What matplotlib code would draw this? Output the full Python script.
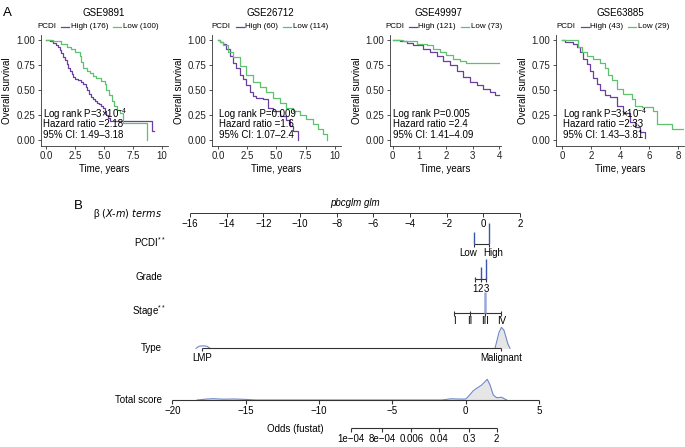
import numpy as np
import matplotlib
matplotlib.use("Agg")
import matplotlib.pyplot as plt
from matplotlib.lines import Line2D

plt.rcParams["font.family"] = ["Liberation Sans", "DejaVu Sans"]
plt.rcParams["mathtext.default"] = "regular"

# ---- panel A: Kaplan-Meier curves ----
titles = ["GSE9891", "GSE26712", "GSE49997", "GSE63885"]
n_high = [176, 60, 121, 43]
n_low = [100, 114, 73, 29]
p_text = ["3\u00d710$^{-4}$", "0.009", "0.005", "3\u00d710$^{-4}$"]
hr_text = ["2.18", "1.6", "2.4", "2.33"]
ci_text = ["1.49\u20133.18", "1.07\u20132.4", "1.41\u20134.09", "1.43\u20133.81"]

t_high = [
    [0, 0.3, 0.6, 0.87, 1.0, 1.16, 1.3, 1.45, 1.6, 1.74, 1.9, 2.03, 2.2, 2.3, 2.5, 2.75, 3.0, 3.2,
     3.4, 3.5, 3.7, 3.9, 4.05, 4.2, 4.4, 4.6, 4.75, 4.9, 5.05, 5.2, 5.35, 5.5, 9.15, 9.3],
    [0, 0.2, 0.43, 0.71, 1.0, 1.29, 1.57, 1.86, 2.14, 2.43, 2.71, 3.0, 3.3, 3.86, 4.29, 4.7, 5.3,
     5.86, 6.14, 6.43, 6.86],
    [0, 0.27, 0.52, 0.77, 1.15, 1.4, 1.65, 1.9, 2.15, 2.4, 2.65, 2.9, 3.15, 3.4, 3.65, 3.84, 4.0],
    [0, 0.23, 0.8, 1.03, 1.26, 1.49, 1.71, 1.94, 2.17, 2.4, 2.63, 2.97, 3.31, 3.77, 4.23, 4.69,
     5.03, 5.37, 5.7, 5.75],
]
s_high = [
    [1, 0.99, 0.975, 0.955, 0.93, 0.90, 0.87, 0.83, 0.80, 0.76, 0.72, 0.69, 0.66, 0.63, 0.61, 0.60,
     0.58, 0.56, 0.53, 0.50, 0.46, 0.43, 0.41, 0.39, 0.37, 0.36, 0.34, 0.32, 0.28, 0.25, 0.22, 0.19,
     0.09, 0.09],
    [1, 0.985, 0.965, 0.91, 0.84, 0.77, 0.72, 0.65, 0.61, 0.55, 0.48, 0.44, 0.42, 0.41, 0.32, 0.29,
     0.24, 0.20, 0.14, 0.09, 0.0],
    [1, 0.99, 0.97, 0.95, 0.91, 0.88, 0.84, 0.79, 0.75, 0.69, 0.63, 0.58, 0.55, 0.51, 0.48, 0.45,
     0.45],
    [1, 0.98, 0.965, 0.93, 0.88, 0.81, 0.76, 0.69, 0.62, 0.56, 0.50, 0.45, 0.43, 0.34, 0.27, 0.18,
     0.13, 0.08, 0.02, 0.02],
]
t_low = [
    [0, 0.6, 1.3, 1.74, 2.17, 2.46, 2.9, 3.0, 3.2, 3.5, 3.77, 4.0, 4.3, 4.7, 5.1, 5.2, 5.4, 5.65,
     5.9, 6.1, 6.4, 6.67, 8.7],
    [0, 0.2, 0.43, 0.86, 1.29, 1.86, 2.43, 3.0, 3.57, 4.14, 4.7, 5.29, 5.86, 6.43, 7.0, 7.57, 8.14,
     8.57, 9.0, 9.29],
    [0, 0.4, 0.9, 1.27, 1.52, 1.77, 2.02, 2.27, 2.52, 2.75, 4.0],
    [0, 1.14, 1.37, 1.71, 2.17, 2.63, 2.97, 3.2, 3.43, 3.77, 4.23, 4.8, 5.03, 5.49, 6.29, 6.51,
     7.6, 8.3],
]
s_low = [
    [1, 0.99, 0.965, 0.93, 0.91, 0.885, 0.84, 0.78, 0.72, 0.69, 0.67, 0.64, 0.62, 0.59, 0.56, 0.50,
     0.45, 0.39, 0.34, 0.30, 0.27, 0.17, 0.0],
    [1, 0.98, 0.95, 0.88, 0.83, 0.74, 0.65, 0.58, 0.53, 0.48, 0.42, 0.37, 0.32, 0.29, 0.25, 0.21,
     0.16, 0.11, 0.06, 0.0],
    [1, 0.99, 0.965, 0.95, 0.91, 0.885, 0.85, 0.815, 0.79, 0.775, 0.775],
    [1, 0.93, 0.88, 0.84, 0.81, 0.77, 0.72, 0.65, 0.60, 0.51, 0.46, 0.41, 0.34, 0.33, 0.29, 0.16,
     0.11, 0.11],
]
x_ticks = [[0, 2.5, 5, 7.5, 10], [0, 2.5, 5, 7.5, 10], [0, 1, 2, 3, 4], [0, 2, 4, 6, 8]]
x_ticklabels = [["0.0", "2.5", "5.0", "7.5", "10"], ["0.0", "2.5", "5.0", "7.5", "10"],
                ["0", "1", "2", "3", "4"], ["0", "2", "4", "6", "8"]]
x_lims = [(-0.5, 10.5), (-0.5, 10.5), (-0.1, 4.05), (-0.4, 8.4)]
y_ticks = [0, 0.25, 0.5, 0.75, 1.0]

# ---- panel B: nomogram ----
beta_ticks = [-16, -14, -12, -10, -8, -6, -4, -2, 0, 2]
pcdi_levels = ["Low", "High"]
pcdi_beta = [-0.51, 0.29]
pcdi_freq = [0.36, 0.64]
grade_levels = ["1", "2", "3"]
grade_beta = [-0.47, -0.15, 0.15]
grade_freq = [0.03, 0.37, 0.62]
stage_levels = ["I", "II", "III", "IV"]
stage_beta = [-1.6, -0.73, 0.12, 0.99]
stage_freq = [0.02, 0.02, 0.65, 0.0]
type_levels = ["LMP", "Malignant"]
type_beta = [-15.36, 0.99]
type_dens_x = [-15.67, -15.51, -15.29, -15.07, -14.91, 0.64, 0.75, 0.86, 0.99, 1.13, 1.24, 1.35, 1.46]
type_dens_h = [0, 2, 2.5, 2, 0, 0, 8, 16, 21, 18, 11, 4, 0]
score_ticks = [-20, -15, -10, -5, 0, 5]
score_dens_x = [-18.3, -17.6, -17.2, -16.5, -15.8, -15.0, -14.3, -1.64, -1.0, -0.3, 0.0, 0.18,
                0.52, 0.75, 1.09, 1.47, 1.66, 1.88, 2.11, 2.45, 2.8]
score_dens_h = [0, 1.0, 1.3, 0.8, 1.0, 0.6, 0, 0, 1.2, 0.9, 1.0, 3.5, 9.3, 11.7, 15, 20.7, 15, 5,
                2.3, 2.7, 0]
odds_ticks = [1e-4, 8e-4, 0.006, 0.04, 0.3, 2]
odds_labels = ["1e\u221204", "8e\u221204", "0.006", "0.04", "0.3", "2"]
odds_offset = 1.42

purple = "#6B3FA0"
green = "#5EC16E"
dark = "#333333"
blue = "#3A55B0"
lightblue = "#9AA9DA"

W, H = 685, 447
fig = plt.figure(figsize=(6.85, 4.47), dpi=100)
renderer = fig.canvas.get_renderer()


def fx(px):
    return px / W


def fy(py):
    return 1 - py / H


km_boxes = [(40.7, 167.5), (212, 340.7), (390, 500.6), (556, 684)]
km_top, km_bottom = 35.4, 145.5
title_x = [103.7, 270, 438, 620.5]
legend_x = [37.3, 211.7, 385, 556.7]
text_x = [-0.29, 0.09, 0.03, 0.07]

for i in range(4):
    l, r = km_boxes[i]
    ax = fig.add_axes([fx(l), fy(km_bottom), (r - l) / W, (km_bottom - km_top) / H])
    ax.step(t_high[i], s_high[i], where="post", color=purple, lw=0.9)
    ax.step(t_low[i], s_low[i], where="post", color=green, lw=0.9)
    ax.set_xlim(*x_lims[i])
    ax.set_ylim(-0.05, 1.05)
    ax.set_xticks(x_ticks[i])
    ax.set_xticklabels(x_ticklabels[i])
    ax.set_yticks(y_ticks)
    ax.set_yticklabels(["%.2f" % v for v in y_ticks])
    ax.spines[["top", "right"]].set_visible(False)
    for sp in ["left", "bottom"]:
        ax.spines[sp].set_color(dark)
        ax.spines[sp].set_linewidth(0.6)
    ax.tick_params(labelsize=7, length=2.5, width=0.6, color=dark, pad=1.5, labelcolor="#222222")
    ax.set_xlabel("Time, years", fontsize=7, labelpad=2)
    ax.set_ylabel("Overall survival", fontsize=7, labelpad=3)
    ax.patch.set_alpha(0)
    ax.text(text_x[i], 0.265, "Log rank P=" + p_text[i], fontsize=7, va="center")
    ax.text(text_x[i], 0.16, "Hazard ratio =" + hr_text[i], fontsize=7, va="center")
    ax.text(text_x[i], 0.055, "95% CI: " + ci_text[i], fontsize=7, va="center")

    fig.text(fx(title_x[i]), fy(12.7), titles[i], fontsize=7, ha="center", va="center")
    # legend row
    x = legend_x[i]
    items = [("PCDI", None), ("High (%d)" % n_high[i], purple), ("Low (%d)" % n_low[i], green)]
    for label, col in items:
        if col is not None:
            fig.add_artist(Line2D([fx(x), fx(x + 8)], [fy(26.7), fy(26.7)], color=col, lw=0.9))
            x += 9.5
        t = fig.text(fx(x), fy(26.7), label, fontsize=5.8, va="center")
        x += t.get_window_extent(renderer).width + 5

fig.text(fx(3), fy(12.5), "A", fontsize=9.5, va="center")
fig.text(fx(74), fy(206), "B", fontsize=9.5, va="center")

# ---- nomogram axes: beta units and total-score units over the same area ----
rect = [0, 0, 1, (H - 195) / H]
axB = fig.add_axes(rect)
axB.set_xlim(-16 - 190 / 18.33, -16 + (W - 190) / 18.33)
axB.set_ylim(H, 195)
axB.axis("off")
axS = fig.add_axes(rect)
axS.set_xlim(-465.7 / 14.67, (W - 465.7) / 14.67)
axS.set_ylim(H, 195)
axS.axis("off")

fs = 7
lab_x = -16 - (190 - 162) / 18.33
y_beta, y_pcdi, y_grade, y_stage, y_type, y_score, y_odds = 213, 244, 279, 313.3, 348.3, 400, 428.3
bar_scale = 33

axB.text(-16 + (355 - 190) / 18.33, 203, "pbcglm glm", fontsize=fs, style="italic",
         ha="center", va="center")
axB.text(lab_x, y_beta + 1, "\u03b2 $\\it{(X\\text{-}m)\\ terms}$", fontsize=fs, ha="right", va="center")
axB.hlines(y_beta, beta_ticks[0], beta_ticks[-1], color=dark, lw=0.7)
axB.vlines(beta_ticks, y_beta, y_beta + 4, color=dark, lw=0.7)
for b in beta_ticks:
    axB.text(b, y_beta + 11, str(b).replace("-", "\u2212"), fontsize=fs, ha="center", va="center")

# PCDI
axB.text(lab_x + 0.2, y_pcdi - 2, "PCDI$^{**}$", fontsize=fs, ha="right", va="center")
axB.hlines(y_pcdi, min(pcdi_beta), max(pcdi_beta), color=dark, lw=0.8)
axB.vlines(pcdi_beta, y_pcdi, y_pcdi + 3, color=dark, lw=0.8)
axB.vlines(pcdi_beta, y_pcdi - np.array(pcdi_freq) * bar_scale, y_pcdi, color=blue, lw=1.0)
axB.text(pcdi_beta[0] + 0.15, y_pcdi + 9, pcdi_levels[0], fontsize=fs, ha="right", va="center")
axB.text(pcdi_beta[1] - 0.31, y_pcdi + 9, pcdi_levels[1], fontsize=fs, ha="left", va="center")

# Grade
axB.text(lab_x, y_grade - 2, "Grade", fontsize=fs, ha="right", va="center")
axB.hlines(y_grade, min(grade_beta), max(grade_beta), color=dark, lw=0.8)
axB.vlines(grade_beta, y_grade - 2, y_grade + 3, color=dark, lw=0.8)
axB.vlines(grade_beta, y_grade - np.array(grade_freq) * bar_scale, y_grade, color=blue, lw=1.0)
for b, s in zip(grade_beta, grade_levels):
    axB.text(b, y_grade + 10, s, fontsize=fs, ha="center", va="center")

# Stage
axB.text(lab_x + 0.2, y_stage - 2, "Stage$^{**}$", fontsize=fs, ha="right", va="center")
axB.hlines(y_stage, min(stage_beta), max(stage_beta), color=dark, lw=0.8)
axB.vlines(stage_beta, y_stage - 2, y_stage + 3, color=dark, lw=0.8)
axB.vlines(stage_beta, y_stage - np.array(stage_freq) * bar_scale, y_stage, color=lightblue, lw=1.8)
for b, s in zip(stage_beta, stage_levels):
    axB.text(b, y_stage + 8, s, fontsize=fs, ha="center", va="center")

# Type
axB.text(lab_x, y_type, "Type", fontsize=fs, ha="right", va="center")
dens_y = y_type - np.array(type_dens_h)
axB.fill_between(type_dens_x[5:], dens_y[5:], y_type, color="#E6E6E6", lw=0)
axB.plot(type_dens_x[:5], dens_y[:5], color="#7088C8", lw=0.8)
axB.plot(type_dens_x[5:], dens_y[5:], color="#7088C8", lw=0.8)
axB.hlines(y_type, min(type_beta), max(type_beta), color=dark, lw=0.8)
axB.vlines(type_beta, y_type, y_type + 3, color=dark, lw=0.8)
for b, s in zip(type_beta, type_levels):
    axB.text(b, y_type + 10, s, fontsize=fs, ha="center", va="center")

# Total score
axS.text((162 - 465.7) / 14.67, y_score, "Total score", fontsize=fs, ha="right", va="center")
sd_y = y_score - np.array(score_dens_h)
axS.fill_between(score_dens_x, sd_y, y_score, color="#E6E6E6", lw=0)
axS.plot(score_dens_x, sd_y, color="#7088C8", lw=0.8)
axS.hlines(y_score, score_ticks[0], score_ticks[-1], color=dark, lw=0.8)
axS.vlines(score_ticks, y_score, y_score + 4, color=dark, lw=0.8)
for s in score_ticks:
    axS.text(s, y_score + 11.5, str(s).replace("-", "\u2212"), fontsize=fs, ha="center", va="center")

# Odds
odds_pos = np.log(odds_ticks) + odds_offset
axS.text(-9.7, y_odds + 1, "Odds (fustat)", fontsize=fs, ha="right", va="center")
axS.hlines(y_odds, odds_pos[0], odds_pos[-1], color=dark, lw=0.8)
axS.vlines(odds_pos, y_odds, y_odds + 4, color=dark, lw=0.8)
for p, s in zip(odds_pos, odds_labels):
    axS.text(p, y_odds + 11, s, fontsize=fs, ha="center", va="center")

fig.savefig("out.png", dpi=100)
